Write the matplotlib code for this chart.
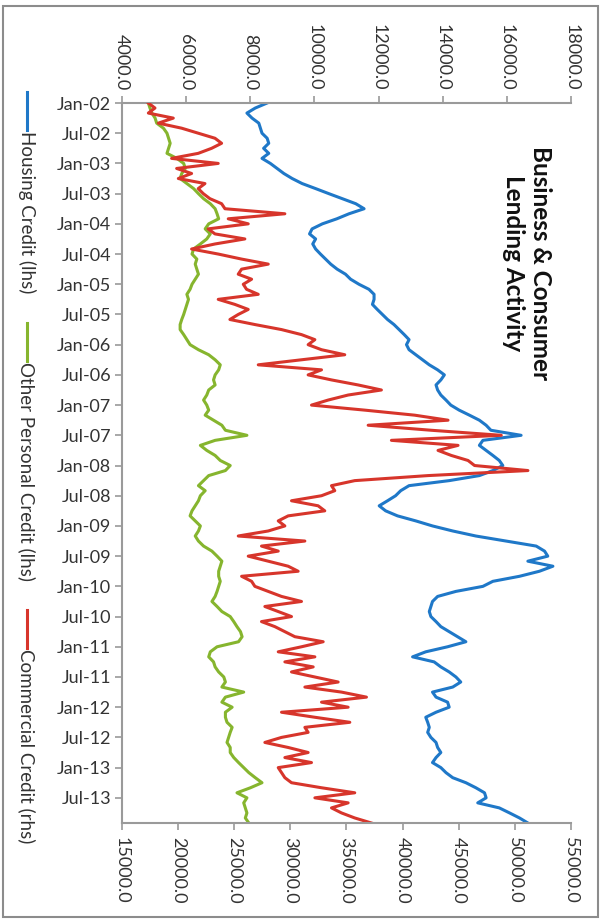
"""Business & Consumer Lending Activity, drawn rotated a quarter turn clockwise."""

import matplotlib

matplotlib.use("Agg")
import matplotlib.pyplot as plt  # noqa: E402
import pandas as pd  # noqa: E402
from matplotlib.lines import Line2D  # noqa: E402
from matplotlib.patches import Rectangle  # noqa: E402
from matplotlib.ticker import FormatStrFormatter  # noqa: E402

plt.rcParams["font.family"] = ["Lato", "DejaVu Sans"]

# monthly categories, Jan-02 .. Dec-13
months = pd.date_range("2002-01-01", periods=144, freq="MS")
month_labels = [d.strftime("%b-%y") for d in months]

# Housing Credit (lhs)
housing = [
    8530, 8160, 7900, 8060, 8270, 8320, 8370, 8530, 8580, 8420, 8580, 8370,
    8630, 8840, 9050, 9310, 9620, 10040, 10450, 10870, 11290, 11550, 11080, 10700,
    10250, 9930, 9850, 10040, 9950, 10040, 10190, 10350, 10510, 10710, 10970, 11130,
    11390, 11700, 11860, 11860, 11810, 11960, 12120, 12280, 12480, 12640, 12800, 12950,
    12870, 12950, 13160, 13370, 13580, 13840, 14050, 13940, 13790, 13840, 13940, 14100,
    14250, 14510, 14830, 15140, 15350, 15500, 16440, 15250, 15140, 15350, 15560, 15760,
    15870, 15560, 15140, 14200, 12950, 12690, 12530, 12280, 12020, 12220, 12590, 13160,
    13680, 14310, 15030, 15970, 16910, 17170, 17270, 16650, 17430, 17010, 16390, 15560,
    15250, 14410, 13840, 13680, 13630, 13580, 13630, 13790, 13940, 14200, 14460, 14720,
    14150, 13470, 13060, 13730, 13940, 14200, 14410, 14560, 14310, 13680, 13790, 14150,
    14200, 13790, 13470, 13530, 13580, 13530, 13630, 13790, 13840, 13940, 13790, 13680,
    13940, 14100, 14310, 14720, 15030, 15300, 15350, 15090, 15760, 16080, 16390, 16650,
]

# Other Personal Credit (lhs)
other_personal = [
    4830, 4880, 4940, 5040, 5090, 5300, 5410, 5460, 5510, 5460, 5410, 5720,
    5930, 5980, 5870, 5820, 6030, 6240, 6390, 6550, 6760, 6910, 6970, 7020,
    6710, 6600, 6760, 6650, 6450, 6240, 6190, 6340, 6290, 6340, 6390, 6290,
    6190, 6130, 6030, 6080, 6030, 5980, 5930, 5870, 5820, 5820, 5930, 6030,
    6130, 6390, 6710, 6910, 7070, 7020, 6910, 6860, 6910, 6710, 6650, 6550,
    6650, 6710, 6600, 6860, 7120, 7230, 7900, 6910, 6450, 6650, 6910, 7070,
    7380, 7230, 6710, 6550, 6390, 6600, 6450, 6390, 6290, 6190, 6130, 6290,
    6450, 6390, 6290, 6390, 6550, 6810, 6970, 7120, 7070, 7020, 7020, 7070,
    7020, 6970, 6910, 6810, 6970, 7120, 7380, 7490, 7590, 7700, 7750, 7640,
    6970, 6760, 6710, 6860, 6910, 7020, 7180, 7230, 7120, 7800, 7230, 7120,
    7440, 7230, 7230, 7280, 7440, 7380, 7330, 7280, 7380, 7380, 7490, 7640,
    7800, 7960, 8160, 8370, 8010, 7590, 7900, 7800, 7850, 7900, 7850, 7960,
]

# Commercial Credit (rhs)
commercial = [
    17370, 17960, 17370, 19590, 18260, 20330, 21810, 23300, 23890, 23000, 21810, 19440,
    23590, 19890, 21220, 20040, 22410, 21810, 22260, 22850, 23890, 24190, 29520, 24480,
    26260, 22700, 23300, 25960, 23300, 21220, 23590, 25670, 28040, 25670, 25370, 26560,
    25820, 26110, 27150, 23590, 25070, 26260, 25370, 24630, 26850, 29220, 31000, 32190,
    31590, 32780, 34850, 31000, 27150, 32780, 31590, 33670, 36040, 38110, 35150, 33370,
    31890, 36630, 41070, 44040, 36930, 42560, 48780, 39000, 44930, 43150, 44330, 45820,
    46400, 51150, 42260, 35740, 33670, 33960, 32780, 30110, 32480, 33070, 29815, 28930,
    29520, 28040, 25370, 31300, 27440, 28930, 26260, 28040, 29815, 30700, 25670, 26560,
    26850, 28040, 29220, 31000, 27740, 28930, 30110, 27440, 28630, 29520, 30410, 32930,
    31000, 28930, 32190, 29520, 32040, 30110, 32190, 34260, 31300, 34560, 36780, 32780,
    35150, 29220, 32190, 35300, 31300, 31590, 29220, 27740, 29815, 31590, 29520, 31890,
    28930, 29220, 29520, 30110, 32780, 35740, 32190, 35150, 33670, 34560, 35740, 37220,
]

lhs_ticks = [4000, 6000, 8000, 10000, 12000, 14000, 16000, 18000]
rhs_ticks = [15000, 20000, 25000, 30000, 35000, 40000, 45000, 50000, 55000]

BLUE = "#1f78c8"
GREEN = "#86b52e"
RED = "#d7352b"
AXIS = "#9a9a9a"
TEXT = "#333333"
W, H = 603, 923

fig = plt.figure(figsize=(W / 100, H / 100), dpi=100)
fig.patches.append(Rectangle((0.005, 0.007), 0.987, 0.986, transform=fig.transFigure,
                             fill=False, edgecolor="#8c8c8c", lw=1.5))

ax = fig.add_axes([121.7 / W, 1 - 823 / H, 449.5 / W, 720 / H])
pos = list(range(len(months)))
ax.plot(housing, pos, color=BLUE, lw=2.2)
ax.plot(other_personal, pos, color=GREEN, lw=2.2)

ax2 = ax.twiny()
ax2.plot(commercial, pos, color=RED, lw=2.2)

# twiny resets the original x axis to the bottom, so place both afterwards
ax.set_ylim(len(months) - 1, 0)
ax.set_xlim(lhs_ticks[0], lhs_ticks[-1])
ax.set_xticks(lhs_ticks)
ax.xaxis.set_major_formatter(FormatStrFormatter("%.1f"))
ax.xaxis.tick_top()
ax.xaxis.set_label_position("top")
ax.set_yticks(pos[::6])
ax.set_yticklabels(month_labels[::6])

ax2.set_xlim(rhs_ticks[0], rhs_ticks[-1])
ax2.set_xticks(rhs_ticks)
ax2.xaxis.set_major_formatter(FormatStrFormatter("%.1f"))
ax2.xaxis.tick_bottom()
ax2.xaxis.set_label_position("bottom")

for a in (ax, ax2):
    for s in a.spines.values():
        s.set_visible(False)
    a.tick_params(colors=AXIS, labelcolor=TEXT, labelsize=13, length=5, width=1.2)
ax.spines["top"].set_visible(True)
ax.spines["left"].set_visible(True)
ax2.spines["bottom"].set_visible(True)
for s in (ax.spines["top"], ax.spines["left"], ax2.spines["bottom"]):
    s.set_color(AXIS)
    s.set_linewidth(1.5)
ax.tick_params(axis="x", labelrotation=-90, pad=4)
ax.tick_params(axis="y", pad=2.5)
ax2.tick_params(axis="x", labelrotation=-90, pad=5)

fig.text(527 / W, 1 - 263 / H, "Business & Consumer\nLending Activity",
         rotation=-90, ha="center", va="center", multialignment="center",
         fontsize=17.5, fontweight="bold", color="#111111")

# legend, laid out sideways down the left edge
legend = [
    ("Housing Credit (lhs)", BLUE, 92),
    ("Other Personal Credit (lhs)", GREEN, 323),
    ("Commercial Credit (rhs)", RED, 610),
]
for label, color, top in legend:
    fig.lines.append(Line2D([27 / W, 27 / W], [1 - top / H, 1 - (top + 38) / H],
                            transform=fig.transFigure, color=color, lw=2.2))
    fig.text(27 / W, 1 - (top + 39) / H, label, rotation=-90, ha="center", va="top",
             fontsize=13.5, color=TEXT)

fig.savefig("out.png", dpi=100)
